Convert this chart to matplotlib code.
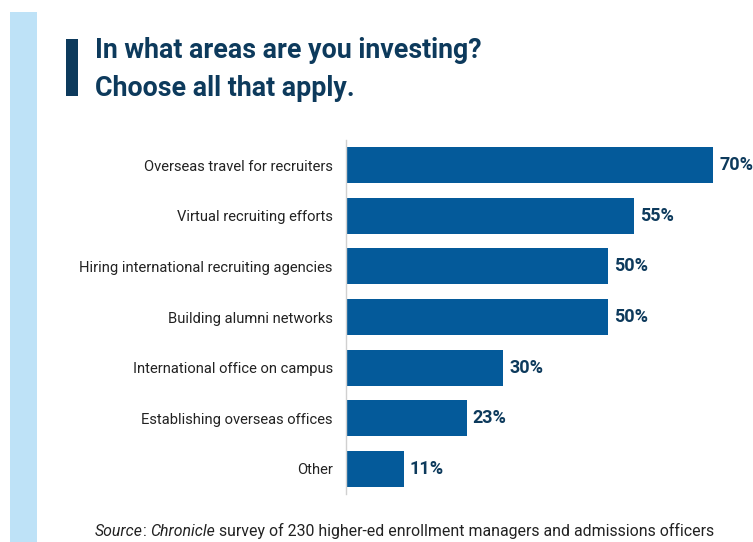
import matplotlib as mpl
from matplotlib import pyplot as plt
from matplotlib.patches import Rectangle

mpl.rcParams["font.family"] = ["Roboto", "DejaVu Sans"]

categories = [
    "Overseas travel for recruiters",
    "Virtual recruiting efforts",
    "Hiring international recruiting agencies",
    "Building alumni networks",
    "International office on campus",
    "Establishing overseas offices",
    "Other",
]
shares = [70, 55, 50, 50, 30, 23, 11]
value_labels = ["70%", "55%", "50%", "50%", "30%", "23%", "11%"]

navy = "#0d3a5c"
bar_blue = "#045a9a"

fig = plt.figure(figsize=(7.53, 5.42), dpi=100)

# Pale side band and the title marker
fig.patches.append(Rectangle((10 / 753, 0), 27 / 753, 1 - 12 / 542,
                             transform=fig.transFigure, facecolor="#bee2f7",
                             edgecolor="none", zorder=0))
fig.patches.append(Rectangle((66 / 753, 1 - 96 / 542), 12 / 753, 57 / 542,
                             transform=fig.transFigure, facecolor=navy,
                             edgecolor="none", zorder=1))

fig.text(95 / 753, 1 - 51 / 542, "In what areas are you investing?",
         fontsize=19.3, fontweight="bold", color=navy, va="center", ha="left")
fig.text(95 / 753, 1 - 88 / 542, "Choose all that apply.",
         fontsize=19.3, fontweight="bold", color=navy, va="center", ha="left")

ax = fig.add_axes([346 / 753, 1 - 494 / 542, (739 - 346) / 753, (494 - 140) / 542])
ypos = list(range(len(categories)))
ax.barh(ypos, shares, height=0.71, color=bar_blue, edgecolor="none")
for y, v, lab in zip(ypos, shares, value_labels):
    ax.text(v + 1.2, y, lab, va="center", ha="left", fontsize=13,
            fontweight="bold", color=navy)

ax.set_xlim(0, 75)
ax.set_ylim(len(categories) - 0.5, -0.5)
ax.set_yticks(ypos)
ax.set_yticklabels(categories, fontsize=10.6, color="#222222")
ax.set_xticks([])
ax.tick_params(axis="y", length=0, pad=9.5)
for side in ["right", "top", "bottom"]:
    ax.spines[side].set_visible(False)
ax.spines["left"].set_color("#d0d0d0")
ax.spines["left"].set_linewidth(1.0)

# Source line, italic pieces chained one after another
pieces = [("Source", "italic"), (":", "normal"), (" ", "normal"), ("Chronicle", "italic"),
          (" survey of 230 higher-ed enrollment managers and admissions officers", "normal")]
x0 = 95 / 753
y0 = 1 - 536 / 542
renderer = fig.canvas.get_renderer()
for txt, st in pieces:
    if txt == " ":
        x0 += 3.5 / 753
        continue
    t = fig.text(x0, y0, txt, fontsize=11.4, style=st, color="#222222",
                 va="baseline", ha="left")
    bb = t.get_window_extent(renderer=renderer)
    x0 = bb.x1 / fig.bbox.width

fig.savefig("out.png", dpi=100)
plt.close()
